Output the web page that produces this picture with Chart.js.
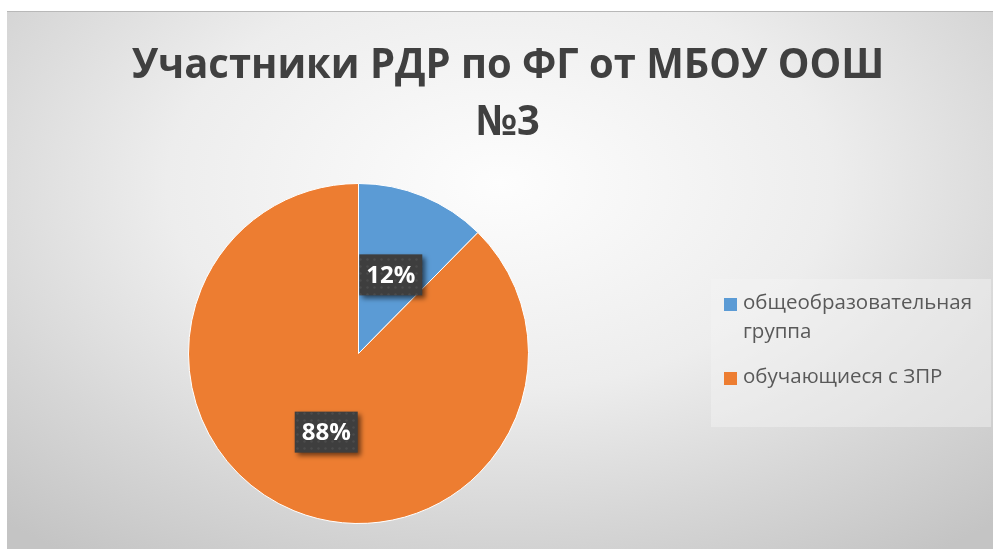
<!DOCTYPE html>
<html lang="ru">
<head>
<meta charset="utf-8">
<script src="https://cdn.jsdelivr.net/npm/chart.js@4.4.1/dist/chart.umd.min.js"></script>
<style>
  html, body { margin: 0; padding: 0; background: #fff; }
  #frame {
    position: absolute; left: 7px; top: 11px; width: 986px; height: 538px;
    background: radial-gradient(ellipse 75% 85% at 50% 32%, #fdfdfd 0%, #ededed 45%, #d6d6d6 75%, #c4c4c4 100%);
    box-shadow: inset 0 1px 0 #b8b8b8;
  }
  canvas { display: block; }
</style>
</head>
<body>
<div id="frame"><canvas id="chart" width="986" height="538"></canvas></div>
<script>
const titleLines = ["Участники РДР по ФГ от МБОУ ООШ", "№3"];
const categories = ["общеобразовательная группа", "обучающиеся с ЗПР"];
const values = [12.4, 87.6];

const total = values.reduce((a, b) => a + b, 0);
const percentLabels = values.map(v => Math.round(v / total * 100) + "%");

// dotted dark fill for the data label boxes
const tile = document.createElement("canvas");
tile.width = 7; tile.height = 7;
const tctx = tile.getContext("2d");
tctx.fillStyle = "#3e3e3e";
tctx.fillRect(0, 0, 7, 7);
tctx.fillStyle = "rgba(255,255,255,0.07)";
tctx.beginPath(); tctx.arc(3.5, 3.5, 1.3, 0, Math.PI * 2); tctx.fill();

const decorations = {
  id: "decorations",
  afterDatasetsDraw(chart) {
    const ctx = chart.ctx;
    ctx.save();

    // title (slightly condensed, like the original Calibri)
    ctx.fillStyle = "#404040";
    ctx.font = "bold 42px 'Open Sans'";
    ctx.textAlign = "center";
    ctx.textBaseline = "alphabetic";
    ctx.save();
    ctx.translate(501, 0);
    ctx.scale(0.95, 1);
    ctx.fillText(titleLines[0], 0, 67);
    ctx.fillText(titleLines[1], 0, 124);
    ctx.restore();

    // data labels
    const meta = chart.getDatasetMeta(0);
    ctx.font = "bold 24px 'Open Sans'";
    meta.data.forEach((arc, i) => {
      const p = arc.getCenterPoint();
      const w = 63, h = 41;
      ctx.save();
      ctx.shadowColor = "rgba(0,0,0,0.55)";
      ctx.shadowBlur = 5;
      ctx.shadowOffsetX = 3;
      ctx.shadowOffsetY = 3;
      ctx.fillStyle = ctx.createPattern(tile, "repeat");
      ctx.fillRect(p.x - w / 2, p.y - h / 2, w, h);
      ctx.restore();
      ctx.fillStyle = "#ffffff";
      ctx.textAlign = "center";
      ctx.textBaseline = "middle";
      ctx.fillText(percentLabels[i], p.x, p.y + 1);
    });

    // legend
    const lx = 704, ly = 268, lw = 280, lh = 148;
    ctx.fillStyle = "rgba(245,245,245,0.45)";
    ctx.fillRect(lx, ly, lw, lh);
    ctx.font = "20.5px 'Open Sans'";
    ctx.textAlign = "left";
    ctx.textBaseline = "alphabetic";
    const maxW = 240;
    let y = 298;
    categories.forEach((name, i) => {
      ctx.fillStyle = chart.data.datasets[0].backgroundColor[i];
      ctx.fillRect(717, y - 11, 13, 13);
      ctx.fillStyle = "#595959";
      const words = name.split(" ");
      let line = "";
      const lines = [];
      words.forEach(wd => {
        const test = line ? line + " " + wd : wd;
        if (ctx.measureText(test).width > maxW && line) { lines.push(line); line = wd; }
        else line = test;
      });
      lines.push(line);
      lines.forEach((t, k) => ctx.fillText(t, 736, y + k * 29));
      y += lines.length * 29 + 16;
    });

    ctx.restore();
  }
};

new Chart(document.getElementById("chart"), {
  type: "pie",
  data: {
    labels: categories,
    datasets: [{
      data: values,
      backgroundColor: ["#5B9BD5", "#ED7D31"],
      borderColor: "#ffffff",
      borderWidth: 1
    }]
  },
  options: {
    responsive: false,
    animation: false,
    layout: { padding: { left: 181, right: 464, top: 172, bottom: 25 } },
    plugins: {
      legend: { display: false },
      title: { display: false },
      tooltip: { enabled: false }
    }
  },
  plugins: [decorations]
});
</script>
</body>
</html>
